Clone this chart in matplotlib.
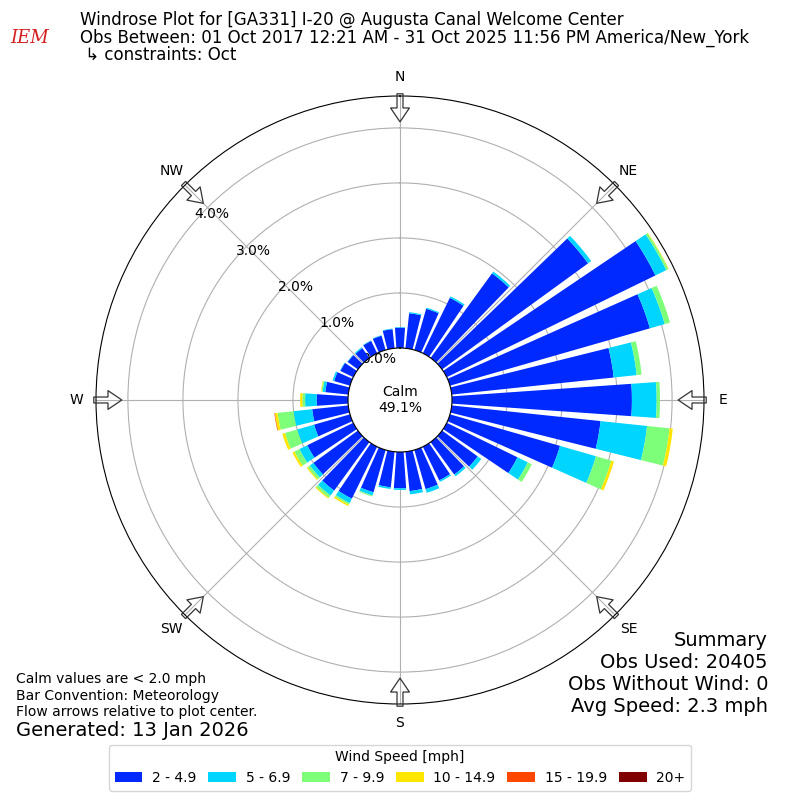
import numpy as np
import matplotlib
matplotlib.use("Agg")
import matplotlib.pyplot as plt

# direction bins (degrees, meteorological convention)
directions = np.arange(0, 360, 10)

# percent of all obs, per speed bin
spd_2_5 = [0.37, 0.64, 0.78, 1.12, 1.90, 3.28, 4.22, 3.78, 2.96, 3.27,
           2.72, 2.08, 1.43, 0.80, 0.73, 0.68, 0.74, 0.72, 0.66, 0.65,
           0.80, 1.05, 1.09, 1.00, 0.93, 0.68, 0.66, 0.57, 0.42, 0.30,
           0.26, 0.23, 0.22, 0.25, 0.27, 0.35]
spd_5_7 = [0.01, 0.02, 0.02, 0.03, 0.04, 0.07, 0.22, 0.28, 0.42, 0.45,
           0.85, 0.68, 0.21, 0.08, 0.04, 0.03, 0.07, 0.06, 0.03, 0.03,
           0.06, 0.09, 0.11, 0.08, 0.16, 0.32, 0.34, 0.21, 0.05, 0.03,
           0.01, 0.01, 0.02, 0.01, 0.01, 0.01]
spd_7_10 = [0, 0, 0, 0, 0, 0, 0.04, 0.10, 0.09, 0.06,
            0.41, 0.29, 0.08, 0, 0, 0, 0, 0, 0, 0,
            0.02, 0.03, 0.05, 0.05, 0.10, 0.23, 0.29, 0.05, 0.02, 0,
            0, 0, 0, 0, 0, 0]
spd_10_15 = [0, 0, 0, 0, 0, 0, 0.01, 0, 0, 0,
             0.06, 0.05, 0, 0, 0, 0, 0, 0, 0, 0,
             0, 0.03, 0.02, 0.02, 0.04, 0.05, 0.05, 0.04, 0.01, 0,
             0, 0, 0, 0, 0, 0]
spd_15_20 = [0] * 26 + [0.01] + [0] * 9
spd_20 = [0] * 36

speed_bins = [spd_2_5, spd_5_7, spd_7_10, spd_10_15, spd_15_20, spd_20]
speed_labels = ["2 - 4.9", "5 - 6.9", "7 - 9.9", "10 - 14.9", "15 - 19.9", "20+"]

calm_pct = 49.1
rticks = [0, 1, 2, 3, 4]
compass = ["N", "NE", "E", "SE", "S", "SW", "W", "NW"]

colors = plt.cm.jet(np.linspace(0, 1, 7)[1:])

fig = plt.figure(figsize=(8, 8), dpi=100)
ax = fig.add_axes([0.12, 0.12, 0.76, 0.76], projection="polar")
ax.set_theta_zero_location("N")
ax.set_theta_direction(-1)

theta = np.radians(directions)
width = np.radians(8)
bottom = np.zeros(len(directions))
for vals, col, lab in zip(speed_bins, colors, speed_labels):
    vals = np.array(vals, dtype=float)
    ax.bar(theta, vals, width=width, bottom=bottom, color=col,
           label=lab, zorder=2)
    bottom += vals

ax.set_ylim(0, 4.58)
ax.set_rorigin(-0.945)
ax.set_yticks(rticks)
ax.set_yticklabels(["%.1f%%" % t for t in rticks], fontsize=10)
ax.set_rlabel_position(311)
ax.set_xticks(np.radians(np.arange(0, 360, 45)))
ax.set_xticklabels(compass, fontsize=10)
ax.tick_params(axis="x", pad=3.4)
ax.grid(True, color="#b0b0b0", lw=0.8)

# hollow flow arrows at the 8 compass points
for d in np.arange(0, 360, 45):
    ax.annotate("", xy=(np.radians(d), 4.11), xytext=(np.radians(d), 4.62),
                arrowprops=dict(arrowstyle="simple,head_length=1.0,head_width=1.35,tail_width=0.43",
                                fc="none", ec="#333333", lw=0.9,
                                shrinkA=0, shrinkB=0, mutation_scale=10),
                annotation_clip=False)

ax.text(0.5, 0.5, "Calm\n%.1f%%" % calm_pct, transform=ax.transAxes,
        ha="center", va="center", fontsize=10)

# header
fig.text(0.1, 1 - 20 / 800, "Windrose Plot for [GA331] I-20 @ Augusta Canal Welcome Center",
         fontsize=12, va="center")
fig.text(0.1, 1 - 38 / 800, "Obs Between: 01 Oct 2017 12:21 AM - 31 Oct 2025 11:56 PM America/New_York",
         fontsize=12, va="center")
fig.text(0.1, 1 - 55 / 800, " \u21b3 constraints: Oct", fontsize=12, va="center")
fig.text(0.037, 1 - 38 / 800, "IEM", color="#d42020", fontsize=13, family="serif",
         style="italic", ha="center", va="center")

# footnotes
fig.text(0.02, 1 - 679 / 800, "Calm values are < 2.0 mph", fontsize=10, va="center")
fig.text(0.02, 1 - 696 / 800, "Bar Convention: Meteorology", fontsize=10, va="center")
fig.text(0.02, 1 - 712 / 800, "Flow arrows relative to plot center.", fontsize=10, va="center")
fig.text(0.02, 1 - 730 / 800, "Generated: 13 Jan 2026", fontsize=14, va="center")

summary = ["Summary", "Obs Used: 20405", "Obs Without Wind: 0", "Avg Speed: 2.3 mph"]
for i, s in enumerate(summary):
    fig.text(0.96, 1 - (640 + 22 * i) / 800, s, fontsize=14, ha="right", va="center")

handles, labels = ax.get_legend_handles_labels()
fig.legend(handles, labels, loc="lower center", ncol=6, bbox_to_anchor=(0.5, 0.003),
           title="Wind Speed [mph]", fontsize=10, title_fontsize=10,
           columnspacing=0.85, handletextpad=0.7)

fig.savefig("out.png", dpi=100)
